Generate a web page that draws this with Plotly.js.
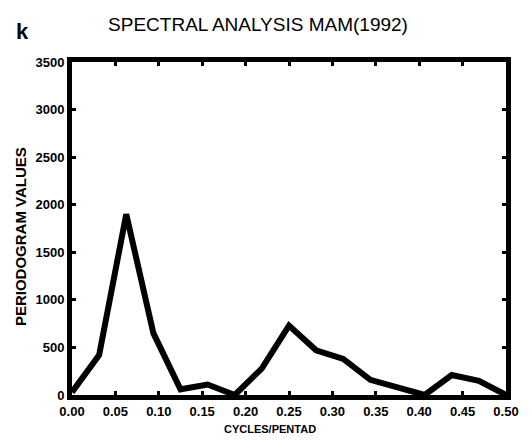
<!DOCTYPE html>
<html>
<head>
<meta charset="utf-8">
<script src="https://cdn.plot.ly/plotly-3.0.1.min.js"></script>
<style>html,body{margin:0;padding:0;background:#fff;}#chart{width:532px;height:448px;}</style>
</head>
<body>
<div id="chart"></div>
<script>
// Frequencies (cycles/pentad) and periodogram values
const freq = [0, 0.03125, 0.0625, 0.09375, 0.125, 0.15625, 0.1875, 0.21875, 0.25, 0.28125, 0.3125, 0.34375, 0.375, 0.40625, 0.4375, 0.46875, 0.5];
const periodogram = [30, 420, 1900, 650, 60, 110, 0, 280, 730, 470, 380, 160, 80, 0, 210, 150, 0];
const xTicks = [0, 0.05, 0.10, 0.15, 0.20, 0.25, 0.30, 0.35, 0.40, 0.45, 0.50];
const yTicks = [0, 500, 1000, 1500, 2000, 2500, 3000, 3500];
const titleText = 'SPECTRAL ANALYSIS MAM(1992)';
const xTitle = 'CYCLES/PENTAD';
const yTitle = 'PERIODOGRAM VALUES';
const panelLabel = 'k';

const fontFam = '"Liberation Sans", Arial, sans-serif';

const trace = {
  x: freq, y: periodogram, type: 'scatter', mode: 'lines',
  line: {color: '#000', width: 6}, showlegend: false
};

const layout = {
  width: 532, height: 448,
  margin: {l: 72, r: 26, t: 62, b: 53},
  paper_bgcolor: '#fff', plot_bgcolor: '#fff',
  font: {family: fontFam, color: '#000'},
  title: {text: titleText, font: {size: 19, family: fontFam, color: '#000'},
          x: 0.485, xanchor: 'center', y: 0.945, yanchor: 'middle'},
  xaxis: {
    range: [0, 0.5], tickvals: xTicks, tickformat: '.2f',
    showline: true, linewidth: 5, linecolor: '#000', mirror: 'allticks',
    ticks: 'inside', ticklen: 4, tickwidth: 3, tickcolor: '#000',
    showgrid: false, zeroline: false,
    tickfont: {size: 13, family: fontFam, weight: 'bold'}
  },
  yaxis: {
    range: [0, 3500], tickvals: yTicks,
    showline: true, linewidth: 5, linecolor: '#000', mirror: 'allticks',
    ticks: 'inside', ticklen: 4, tickwidth: 3, tickcolor: '#000',
    showgrid: false, zeroline: false,
    tickfont: {size: 13, family: fontFam, weight: 'bold'}
  },
  annotations: [
    {text: '<b>' + panelLabel + '</b>', xref: 'paper', yref: 'paper', x: -0.113, y: 1.092,
     xanchor: 'center', yanchor: 'middle', showarrow: false,
     font: {size: 22, family: fontFam, color: '#000'}},
    {text: '<b>' + xTitle + '</b>', xref: 'paper', yref: 'paper', x: 0.456, y: -0.102,
     xanchor: 'center', yanchor: 'middle', showarrow: false,
     font: {size: 11, family: fontFam, color: '#000'}},
    {text: '<b>' + yTitle + '</b>', xref: 'paper', yref: 'paper', x: -0.12, y: 0.477,
     xanchor: 'center', yanchor: 'middle', textangle: -90, showarrow: false,
     font: {size: 15, family: fontFam, color: '#000'}}
  ]
};

Plotly.newPlot('chart', [trace], layout, {displayModeBar: false, staticPlot: true});
</script>
</body>
</html>
